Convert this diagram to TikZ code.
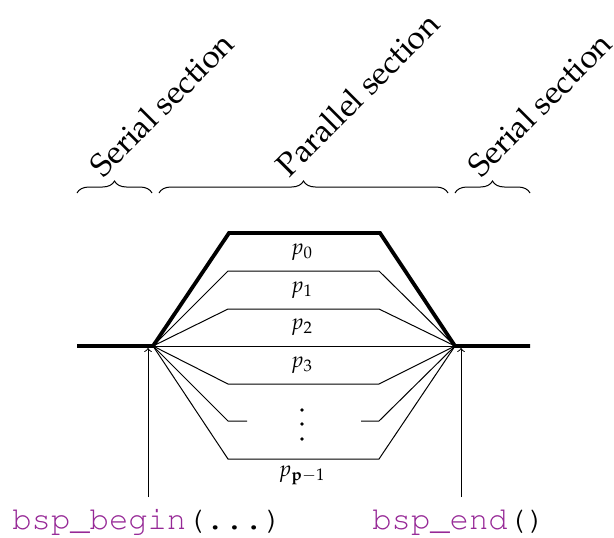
\documentclass[tikz,border=0pt]{standalone}
\usepackage[T1]{fontenc}
\usepackage{mathpazo}
\renewcommand{\ttdefault}{pcr}
\usetikzlibrary{decorations.pathreplacing}
\definecolor{fnpurple}{RGB}{150,40,150}
\begin{document}
\begin{tikzpicture}[x=0.5pt,y=-0.5pt,
  thickline/.style={line width=1.9pt},
  thinline/.style={line width=0.5pt},
  bracestyle/.style={line width=0.5pt, decorate, decoration={brace, amplitude=6pt}},
  seclabel/.style={rotate=45, anchor=base west, inner sep=0pt, font=\fontsize{16.1}{19}\selectfont},
  plabel/.style={inner sep=0pt, font=\fontsize{11}{13}\selectfont},
  codelabel/.style={anchor=base west, inner sep=0pt, font=\fontsize{16.1}{18}\selectfont\ttfamily},
  dotstyle/.style={fill=black, circle, inner sep=0pt, minimum size=1.8pt}]
\useasboundingbox (0,0) rectangle (614,537);

% key points
\coordinate (SL) at (77,346);
\coordinate (L) at (153,346);
\coordinate (R) at (455,346);
\coordinate (SR) at (530,346);
\coordinate (TL) at (229,233);
\coordinate (TR) at (380,233);

% braces
\coordinate (b1a) at (77,193);  \coordinate (b1b) at (152,193);
\coordinate (b2a) at (159,193); \coordinate (b2b) at (448,193);
\coordinate (b3a) at (455,193); \coordinate (b3b) at (530,193);
\draw[bracestyle] (b1a) -- (b1b);
\draw[bracestyle] (b2a) -- (b2b);
\draw[bracestyle] (b3a) -- (b3b);
\node[seclabel] (s1) at (103,179) {Serial section};
\node[seclabel] (s2) at (289,179) {Parallel section};
\node[seclabel] (s3) at (481,179) {Serial section};

% thick outline
\draw[thickline] (SL) -- (L) -- (TL) -- (TR) -- (R) -- (SR);

% thin process lines
\foreach \yy in {271,309,384,459} {
  \draw[thinline] (L) -- (228,\yy) -- (379,\yy) -- (R);
}
\draw[thinline] (L) -- (R);
\draw[thinline] (L) -- (228,421) -- (247,421);
\draw[thinline] (361,421) -- (379,421) -- (R);

% labels
\node[plabel] (p0) at (302,252) {$p_0$};
\node[plabel] (p1) at (302,290) {$p_1$};
\node[plabel] (p2) at (302,327) {$p_2$};
\node[plabel] (p3) at (302,365) {$p_3$};
\node[plabel] (pp) at (302,475) {$p_{\mathbf{p}-1}$};
\node[dotstyle] (d1) at (302,410) {};
\node[dotstyle] (d2) at (302,424) {};
\node[dotstyle] (d3) at (302,439) {};

% code labels and arrows
\node[codelabel] (cb) at (12,529) {\textcolor{fnpurple}{bsp\_begin}(...)};
\node[codelabel] (ce) at (372,529) {\textcolor{fnpurple}{bsp\_end}()};
\coordinate (ab) at (148,497);
\coordinate (abt) at (148,348);
\coordinate (ae) at (461,497);
\coordinate (aet) at (461,348);
\draw[thinline,->] (ab) -- (abt);
\draw[thinline,->] (ae) -- (aet);
\end{tikzpicture}
\end{document}
